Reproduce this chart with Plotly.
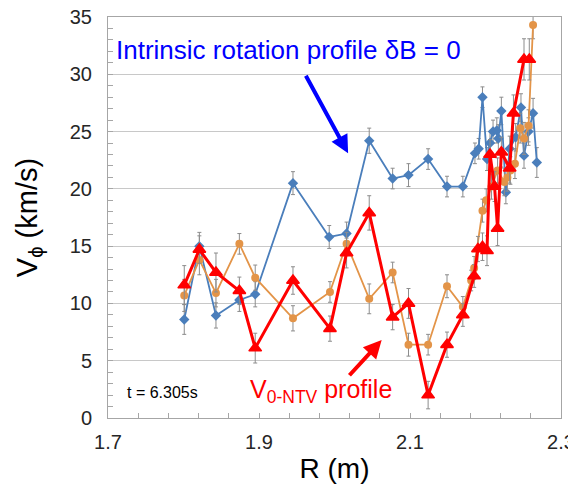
import plotly.graph_objects as go

# ---- data ----
R_blue = [1.801, 1.821, 1.843, 1.874, 1.895, 1.945, 1.993, 2.016, 2.046, 2.077, 2.098, 2.124, 2.149, 2.170,
          2.186, 2.191, 2.196, 2.202, 2.206, 2.210, 2.215, 2.217, 2.221, 2.227, 2.232, 2.240, 2.247, 2.251,
          2.257, 2.263, 2.268]
V_blue = [8.6, 15.0, 8.95, 10.3, 10.8, 20.5, 15.8, 16.1, 24.2, 20.9, 21.2, 22.6, 20.2, 20.2,
          23.1, 23.5, 28.0, 22.6, 24.0, 25.0, 25.1, 24.4, 26.8, 19.7, 23.5, 24.5, 27.1, 22.9,
          25.0, 26.6, 22.3]
E_blue = [1.3, 1.2, 1.1, 1.0, 1.1, 1.0, 1.0, 1.0, 1.1, 0.9, 1.0, 0.9, 0.9, 0.9,
          0.9, 0.9, 0.9, 1.0, 1.0, 1.0, 1.1, 1.2, 1.2, 1.0, 1.1, 1.2, 1.2, 1.1,
          1.2, 1.3, 1.3]

R_orange = [1.801, 1.821, 1.843, 1.874, 1.895, 1.945, 1.994, 2.016, 2.046, 2.077, 2.098, 2.124, 2.149, 2.170,
            2.181, 2.185, 2.196, 2.201, 2.208, 2.216, 2.225, 2.229, 2.233, 2.239, 2.246, 2.251, 2.257, 2.263]
V_orange = [10.7, 13.8, 10.9, 15.2, 12.25, 8.7, 11.0, 15.2, 10.4, 12.7, 6.4, 6.4, 11.5, 9.7,
            12.0, 13.1, 18.1, 19.0, 20.2, 21.6, 20.6, 21.0, 21.6, 22.2, 25.3, 24.4, 25.5, 34.3]
E_orange = [1.4, 1.3, 1.2, 0.9, 1.1, 1.1, 0.9, 1.0, 1.3, 0.9, 1.0, 0.9, 1.0, 0.9,
            0.9, 1.0, 1.0, 1.0, 1.1, 1.1, 1.2, 1.2, 1.2, 1.3, 1.3, 1.4, 1.4, 1.2]

R_red = [1.801, 1.821, 1.843, 1.874, 1.895, 1.945, 1.994, 2.016, 2.046, 2.077, 2.098, 2.124, 2.149, 2.170,
         2.185, 2.190, 2.196, 2.202, 2.206, 2.212, 2.216, 2.221, 2.232, 2.237, 2.251, 2.258]
V_red = [11.6, 14.7, 12.7, 11.1, 6.1, 12.0, 7.8, 14.4, 17.9, 8.8, 10.0, 2.0, 6.4, 9.0,
         12.4, 14.75, 14.95, 14.6, 23.0, 20.2, 16.55, 23.2, 21.8, 26.6, 31.3, 31.3]
E_red = [1.7, 1.2, 1.7, 1.2, 1.3, 1.2, 1.1, 1.3, 1.5, 1.1, 1.3, 1.2, 1.1, 1.0,
         1.0, 1.1, 1.2, 1.3, 1.3, 1.3, 1.5, 1.3, 1.3, 1.6, 1.8, 1.8]

x_ticks = [1.7, 1.9, 2.1, 2.3]
x_tick_labels = ["1.7", "1.9", "2.1", "2.3"]
y_ticks = [0, 5, 10, 15, 20, 25, 30, 35]

FONT = "Liberation Sans, Arial, sans-serif"
err_style = dict(type="data", thickness=1, width=2, color="#8c8c8c")

fig = go.Figure()
fig.add_trace(go.Scatter(
    x=R_blue, y=V_blue, mode="lines+markers",
    line=dict(color="#4A7EBB", width=1.8),
    marker=dict(symbol="diamond", size=8, color="#4A7EBB"),
    error_y=dict(array=E_blue, **err_style), showlegend=False))
fig.add_trace(go.Scatter(
    x=R_orange, y=V_orange, mode="lines+markers",
    line=dict(color="#E39448", width=1.8),
    marker=dict(symbol="circle", size=8, color="#E39448"),
    error_y=dict(array=E_orange, **err_style), showlegend=False))
fig.add_trace(go.Scatter(
    x=R_red, y=V_red, mode="lines+markers",
    line=dict(color="#FF0000", width=3),
    marker=dict(symbol="triangle-up", size=11, color="#FF0000",
                line=dict(color="#FF0000", width=1.5)),
    error_y=dict(array=E_red, **err_style), showlegend=False))

annotations = [
    dict(x=1.708, y=32.1, xref="x", yref="y", text="Intrinsic rotation profile δB = 0",
         showarrow=False, xanchor="left", yanchor="middle",
         font=dict(family=FONT, size=26, color="#0000FF")),
    dict(x=2.018, y=23.1, xref="x", yref="y", ax=1.961, ay=30.0, axref="x", ayref="y",
         text="", showarrow=True, arrowhead=2, arrowsize=0.9, arrowwidth=4, arrowcolor="#0000FF"),
    dict(x=1.886, y=2.4, xref="x", yref="y", text="V<sub>0-NTV</sub> profile",
         showarrow=False, xanchor="left", yanchor="middle",
         font=dict(family=FONT, size=25, color="#FF0000")),
    dict(x=2.0625, y=6.8, xref="x", yref="y", ax=2.018, ay=3.6, axref="x", ayref="y",
         text="", showarrow=True, arrowhead=2, arrowsize=0.9, arrowwidth=4, arrowcolor="#FF0000"),
    dict(x=1.722, y=2.2, xref="x", yref="y", text="t = 6.305s",
         showarrow=False, xanchor="left", yanchor="middle",
         font=dict(family=FONT, size=16, color="#000000")),
]

# The page body has an 8 px margin, so the figure is sized to fit the 576x484 window.
fig.update_layout(
    width=568, height=476,
    margin=dict(l=100, r=15, t=9, b=66),
    paper_bgcolor="white", plot_bgcolor="white",
    font=dict(family=FONT, color="#262626"),
    annotations=annotations,
    xaxis=dict(
        range=[1.7, 2.3], tickvals=x_ticks, ticktext=x_tick_labels,
        showgrid=False, zeroline=False, automargin=False,
        showline=True, linecolor="#A6A6A6", linewidth=1, mirror=True,
        ticks="inside", ticklen=5, tickcolor="#A6A6A6",
        minor=dict(dtick=0.04, tick0=1.7, ticks="inside", ticklen=5, tickcolor="#A6A6A6", showgrid=False),
        tickfont=dict(family=FONT, size=20, color="#262626"),
        ticklabelstandoff=6, ticklabeloverflow="allow",
        title=dict(text="R (m)", font=dict(family=FONT, size=28, color="#000000"), standoff=11),
    ),
    yaxis=dict(
        range=[0, 35], tickvals=y_ticks,
        showgrid=True, gridcolor="#C8C8C8", gridwidth=1, zeroline=False, automargin=False,
        showline=True, linecolor="#A6A6A6", linewidth=1, mirror=True,
        ticks="inside", ticklen=5, tickcolor="#A6A6A6",
        minor=dict(dtick=1, ticks="inside", ticklen=5, tickcolor="#A6A6A6", showgrid=False),
        tickfont=dict(family=FONT, size=20, color="#262626"),
        ticklabelstandoff=11, ticklabeloverflow="allow",
        title=dict(text="V<sub>ϕ</sub> (km/s)", font=dict(family=FONT, size=29, color="#000000"), standoff=23),
    ),
)

fig.write_html("out.html")
